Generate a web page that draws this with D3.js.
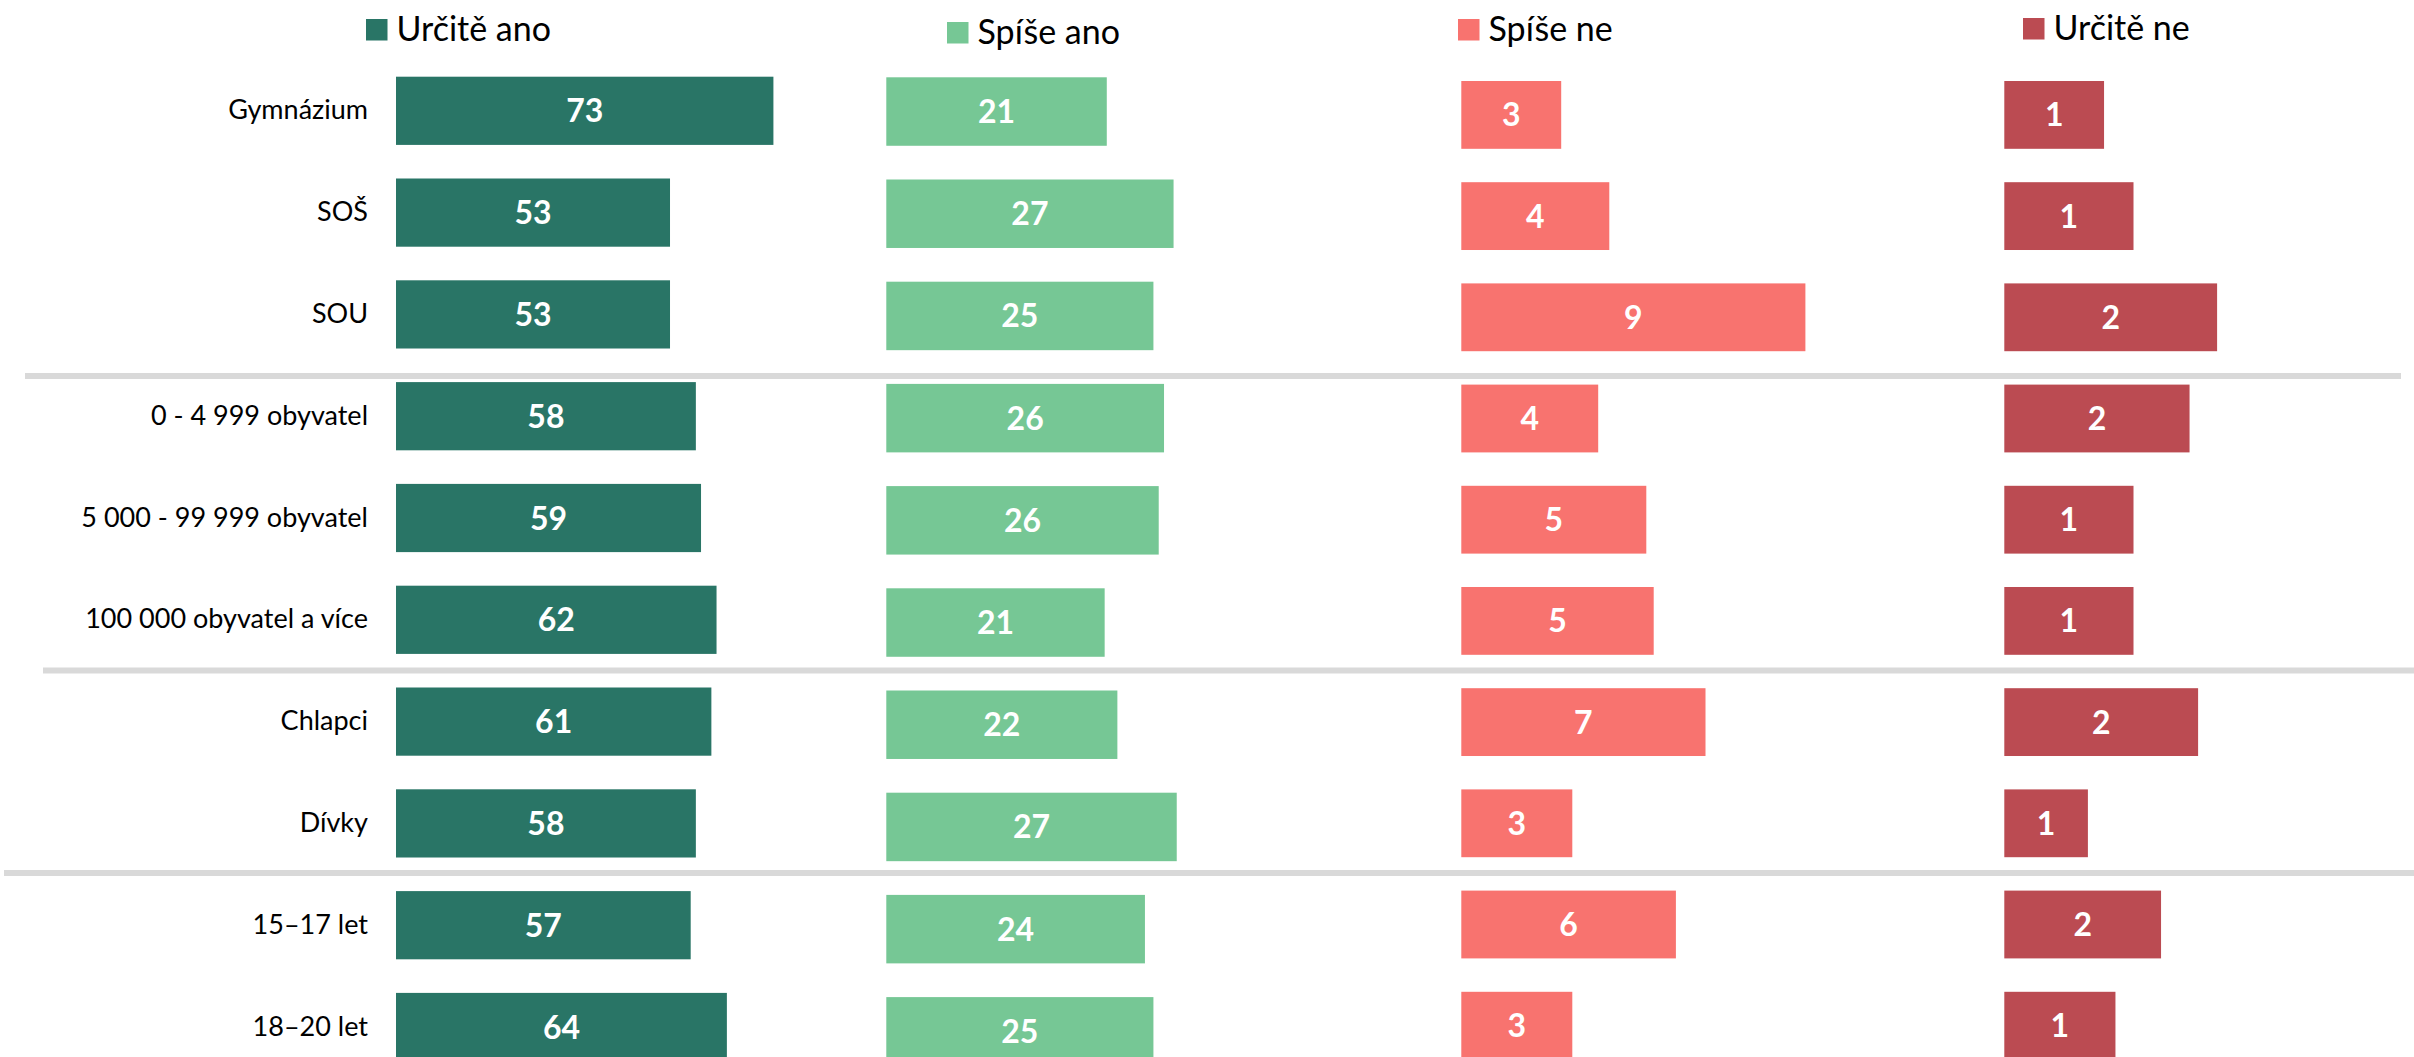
<html>
<head>
	<meta charset="utf-8">
	<title>Určitě ano / Určitě ne</title>
	<style>
		body { margin: 0; background: #fff; }
		svg { display: block; }
	</style>
</head>
<body>
	<div id="chart"></div>
	<script src="https://d3js.org/d3.v7.min.js"></script>
	<script>
		// categories (rows)
		var categories = ["Gymnázium", "SOŠ", "SOU", "0 - 4 999 obyvatel", "5 000 - 99 999 obyvatel",
			"100 000 obyvatel a více", "Chlapci", "Dívky", "15–17 let", "18–20 let"];

		var seriesNames = ["Určitě ano", "Spíše ano", "Spíše ne", "Určitě ne"];

		// values in % (labels are the rounded values)
		var urciteAno = [73, 53, 53, 58, 59, 62, 61, 58, 57, 64];
		var spiseAno = [20.8, 27.1, 25.2, 26.2, 25.7, 20.6, 21.8, 27.4, 24.4, 25.2];
		var spiseNe = [2.7, 4.0, 9.3, 3.7, 5.0, 5.2, 6.6, 3.0, 5.8, 3.0];
		var urciteNe = [1.05, 1.36, 2.24, 1.95, 1.36, 1.36, 2.04, 0.88, 1.65, 1.17];

		var seriesValues = [urciteAno, spiseAno, spiseNe, urciteNe];
		var seriesColors = ["#297566", "#76c795", "#f8736f", "#bb4b52"];

		var width = 2414;
		var height = 1057;
		var fontFamily = "Lato, 'Open Sans', sans-serif";

		// every column is its own little bar chart with its own axis max
		var panels = [
			{ x0: 396, plotWidth: 413.6, max: 80, top: 76.7, step: 101.8, legendX: 366, legendY: 19 },
			{ x0: 886.3, plotWidth: 318, max: 30, top: 77.3, step: 102.2, legendX: 947, legendY: 22 },
			{ x0: 1461.3, plotWidth: 370, max: 10, top: 81, step: 101.2, legendX: 1458, legendY: 19 },
			{ x0: 2004.3, plotWidth: 237.5, max: 2.5, top: 81, step: 101.2, legendX: 2023, legendY: 18 }
		];

		// grey rules between the groups of rows
		var groupBreaks = [
			{ before: 3, dy: -6, from: 25, to: 2401 },
			{ before: 6, dy: -17, from: 43, to: 2414 },
			{ before: 8, dy: -18, from: 4, to: 2414 }
		];

		var legendBox = 21.5;
		var fmt = d3.format(".0f");

		var svg = d3.select("#chart").append("svg")
			.attr("width", width)
			.attr("height", height);

		function bandFor(p) {
			var pad = 0.33;
			var r0 = p.top - (pad / 2) * p.step;
			return d3.scaleBand()
				.domain(categories)
				.range([r0, r0 + p.step * categories.length])
				.paddingInner(pad)
				.paddingOuter(pad / 2);
		}

		var yLabels = bandFor(panels[0]);

		// separators
		svg.selectAll("line.sep")
			.data(groupBreaks)
			.enter().append("line")
			.attr("class", "sep")
			.attr("x1", function(d) { return d.from; })
			.attr("x2", function(d) { return d.to; })
			.attr("y1", function(d) { return yLabels(categories[d.before]) + d.dy; })
			.attr("y2", function(d) { return yLabels(categories[d.before]) + d.dy; })
			.attr("stroke", "#d9d9d9")
			.attr("stroke-width", 6);

		// row labels
		svg.selectAll("text.cat")
			.data(categories)
			.enter().append("text")
			.attr("class", "cat")
			.attr("x", 368)
			.attr("y", function(d) { return yLabels(d) + yLabels.bandwidth() / 2 + 8.5; })
			.attr("text-anchor", "end")
			.attr("font-family", fontFamily)
			.attr("font-size", 27)
			.attr("fill", "#000")
			.text(function(d) { return d; });

		panels.forEach(function(p, i) {
			var x = d3.scaleLinear().domain([0, p.max]).range([p.x0, p.x0 + p.plotWidth]);
			var y = bandFor(p);
			var rows = seriesValues[i].map(function(v, j) { return { cat: categories[j], value: v }; });

			var g = svg.append("g").attr("class", "panel");

			g.selectAll("rect")
				.data(rows)
				.enter().append("rect")
				.attr("x", x(0))
				.attr("y", function(d) { return y(d.cat); })
				.attr("width", function(d) { return x(d.value) - x(0); })
				.attr("height", y.bandwidth())
				.attr("fill", seriesColors[i]);

			g.selectAll("text")
				.data(rows)
				.enter().append("text")
				.attr("x", function(d) { return (x(0) + x(d.value)) / 2; })
				.attr("y", function(d) { return y(d.cat) + y.bandwidth() / 2 + 11.5; })
				.attr("text-anchor", "middle")
				.attr("font-family", fontFamily)
				.attr("font-weight", "bold")
				.attr("font-size", 32)
				.attr("fill", "#fff")
				.text(function(d) { return fmt(d.value); });

			// legend entry above the column
			var lg = svg.append("g").attr("class", "legend");
			lg.append("rect")
				.attr("x", p.legendX)
				.attr("y", p.legendY)
				.attr("width", legendBox)
				.attr("height", legendBox)
				.attr("fill", seriesColors[i]);
			lg.append("text")
				.attr("x", p.legendX + legendBox + 9)
				.attr("y", p.legendY + legendBox)
				.attr("font-family", fontFamily)
				.attr("font-size", 34)
				.attr("fill", "#000")
				.text(seriesNames[i]);
		});
	</script>
</body>
</html>
